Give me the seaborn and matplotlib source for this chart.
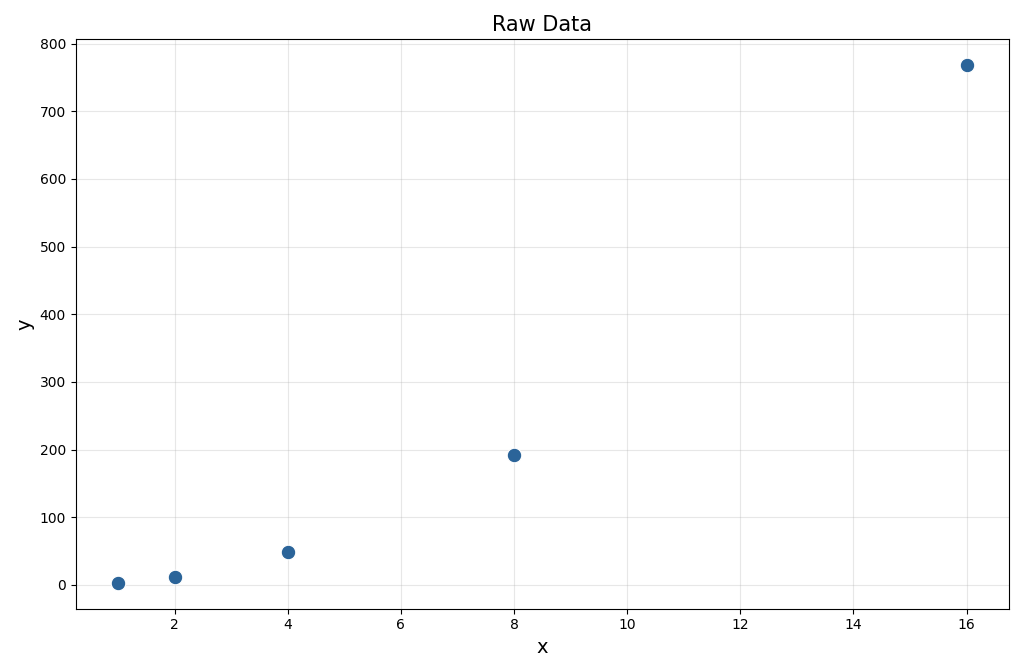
import seaborn as sns
import matplotlib.pyplot as plt
import pandas as pd

x_vals = [1, 2, 4, 8, 16]
y_vals = [3, 12, 48, 192, 768]

df = pd.DataFrame({"x": x_vals, "y": y_vals})

fig, ax = plt.subplots(figsize=(10.24, 6.72), dpi=100)
sns.scatterplot(data=df, x="x", y="y", ax=ax, s=110, color="#2b6499", edgecolor="white", linewidth=0.8, zorder=3)
ax.set_title("Raw Data", fontsize=15)
ax.set_xlabel("x", fontsize=14)
ax.set_ylabel("y", fontsize=14)
ax.grid(True, alpha=0.3)
ax.set_xticks(range(2, 17, 2))
ax.set_yticks(range(0, 801, 100))
fig.tight_layout()
fig.savefig("out.png", dpi=100)
